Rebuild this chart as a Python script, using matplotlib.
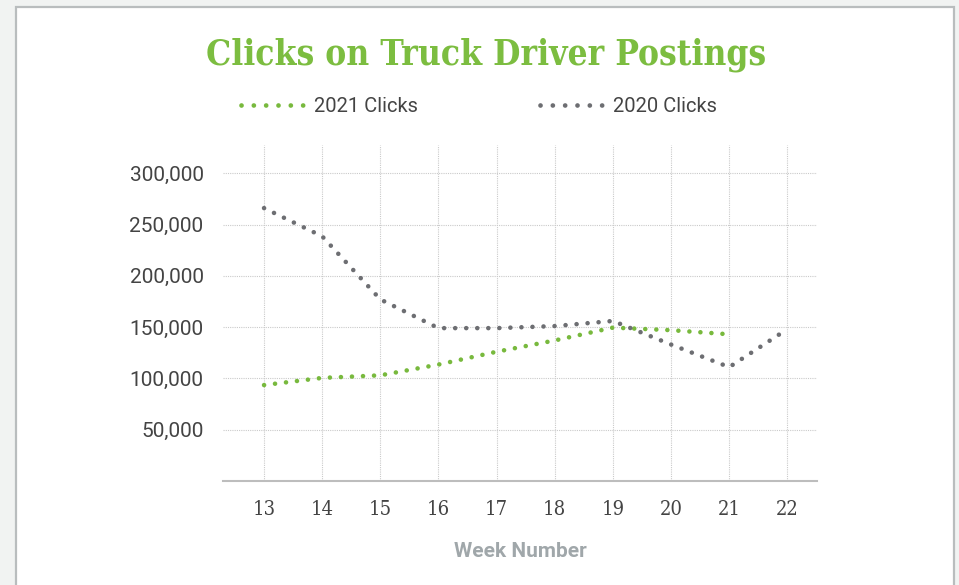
import matplotlib
matplotlib.use("Agg")
import matplotlib.pyplot as plt
from matplotlib.lines import Line2D
from matplotlib.patches import Rectangle
from matplotlib.ticker import FuncFormatter, FixedLocator

# ---- data ----
weeks_2021 = [13, 14, 15, 16, 17, 18, 19, 20, 21]
clicks_2021 = [93500, 100500, 103000, 113500, 126000, 137000, 149500, 147000, 143000]
weeks_2020 = [13, 14, 15, 16, 17, 18, 19, 20, 21, 22]
clicks_2020 = [266000, 238500, 177000, 149000, 149000, 151000, 156000, 133000, 111000, 148000]
x_ticks = [13, 14, 15, 16, 17, 18, 19, 20, 21, 22]
y_ticks = [50000, 100000, 150000, 200000, 250000, 300000]
series_names = ["2021 Clicks", "2020 Clicks"]
title_text = "Clicks on Truck Driver Postings"
xlabel_text = "Week Number"

GREEN = "#78b93d"
TITLE_GREEN = "#7cbd40"
GRAY = "#6d6e72"
TXT = "#444444"

fig = plt.figure(figsize=(9.59, 5.85), dpi=100)
fig.patch.set_facecolor("#f1f3f2")

card = Rectangle((16 / 959, -0.05), (954 - 16) / 959, 1.05 - 7 / 585,
                 transform=fig.transFigure, facecolor="white",
                 edgecolor="#b9bdbe", linewidth=1.6, zorder=-10)
fig.patches.append(card)

ax = fig.add_axes([223 / 959, 1 - 481 / 585, (817 - 223) / 959, (481 - 145) / 585])
ax.set_facecolor("none")
ax.set_zorder(5)

dots = (0, (0.01, 2.4))
ax.plot(weeks_2021, clicks_2021, color=GREEN, lw=3.3, linestyle=dots,
        dash_capstyle="round", solid_capstyle="round", zorder=3)
ax.plot(weeks_2020, clicks_2020, color=GRAY, lw=3.3, linestyle=dots,
        dash_capstyle="round", solid_capstyle="round", zorder=3)

ax.set_xlim(12.294, 22.51)
ax.set_ylim(0, 327500)

ax.xaxis.set_major_locator(FixedLocator(x_ticks))
ax.yaxis.set_major_locator(FixedLocator(y_ticks))
ax.yaxis.set_major_formatter(FuncFormatter(lambda v, p: f"{int(v):,}"))

ax.grid(True, color="#cacaca", linestyle=(0, (1, 1)), linewidth=0.8)
ax.set_axisbelow(True)
for s in ["top", "right", "left"]:
    ax.spines[s].set_visible(False)
ax.spines["bottom"].set_color("#bdbdbd")
ax.spines["bottom"].set_linewidth(1.5)

ax.tick_params(axis="both", length=0)
ax.tick_params(axis="y", pad=14, labelsize=15, labelcolor=TXT)
ax.tick_params(axis="x", pad=14, labelsize=14.5, labelcolor=TXT)
for lab in ax.get_yticklabels():
    lab.set_fontfamily("Roboto")
for lab in ax.get_xticklabels():
    lab.set_fontfamily("DejaVu Serif")
    lab.set_fontstretch("condensed")

ax.set_xlabel(xlabel_text, fontsize=15, fontweight="bold", color="#a0a7aa",
              fontfamily="Roboto", labelpad=16)

fig.text(486 / 959, 1 - 55 / 585, title_text, ha="center", va="center",
         fontsize=25.3, fontweight="bold", color=TITLE_GREEN,
         fontfamily="DejaVu Serif", fontstretch="condensed")

handles = [Line2D([], [], color=GREEN, lw=3.4, linestyle=(0, (0.01, 2.6)), dash_capstyle="round"),
           Line2D([], [], color=GRAY, lw=3.4, linestyle=(0, (0.01, 2.6)), dash_capstyle="round")]
leg = fig.legend(handles, series_names, loc="center", bbox_to_anchor=(479 / 959, 1 - 107 / 585),
                 ncol=2, frameon=False, handlelength=3.3, handletextpad=0.3,
                 columnspacing=6.1, prop={"family": "Roboto", "size": 14.5})
for t in leg.get_texts():
    t.set_color(TXT)

fig.savefig("out.png", dpi=100, facecolor=fig.get_facecolor())
